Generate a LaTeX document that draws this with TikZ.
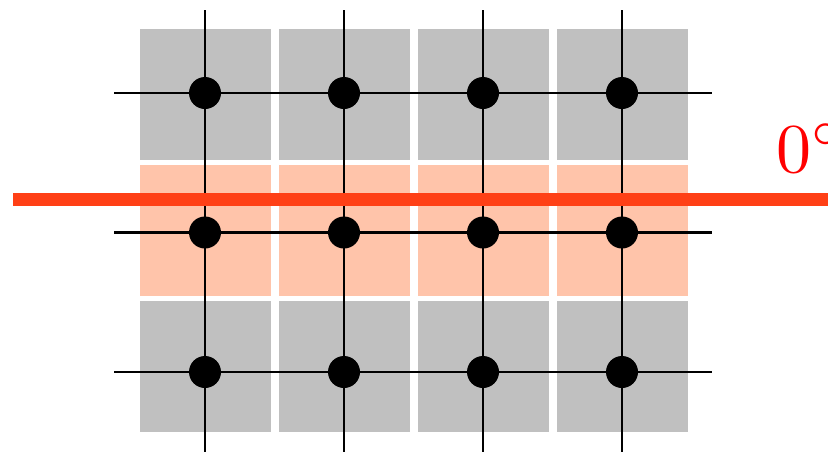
\documentclass[tikz,border=0pt]{standalone}
\usepackage{graphicx}
\usepackage{tikz}
\definecolor{cellgray}{HTML}{C0C0C0}
\definecolor{cellpink}{HTML}{FFC4AA}
\definecolor{bandred}{HTML}{FF4016}
\tikzset{
  cell/.style={fill=#1, draw=none},
  gridline/.style={line width=2.8pt, black},
  site/.style={circle, fill=black, inner sep=0pt, minimum size=32pt},
  band/.style={line width=13pt, bandred},
}
\begin{document}
\begin{tikzpicture}[x=1pt, y=-1pt]
  \useasboundingbox (0,0) rectangle (828,451);
  \clip (0,0) rectangle (828,451);
  % cells: gray outer rows, pink middle row
  \foreach \i in {0,...,3} {
    \foreach \j/\c in {0/cellgray, 1/cellpink, 2/cellgray} {
      \fill[cell=\c] ({140+139*\i}, {29+136*\j}) rectangle ++(131,131);
    }
  }
  % line end points and sites
  \foreach \i in {0,...,3} {
    \coordinate (top-\i) at ({205+139*\i}, 10);
    \coordinate (bot-\i) at ({205+139*\i}, 460);
  }
  \foreach \j in {0,1,2} {
    \coordinate (left-\j) at (114, {93+139.5*\j});
    \coordinate (right-\j) at (712, {93+139.5*\j});
  }
  \foreach \i in {0,...,3} \draw[gridline] (top-\i) -- (bot-\i);
  \foreach \j in {0,1,2} \draw[gridline] (left-\j) -- (right-\j);
  \foreach \i in {0,...,3} {
    \foreach \j in {0,1,2} {
      \node[site] (s-\i-\j) at ({205+139*\i}, {93+139.5*\j}) {};
    }
  }
  % cut line and its angle label
  \coordinate (cut-a) at (13, 199);
  \coordinate (cut-b) at (840, 199);
  \draw[band] (cut-a) -- (cut-b);
  \node[anchor=base west, inner sep=0pt, text=red] (angle) at (776, 172) {\scalebox{7}{0$^\circ$}};
\end{tikzpicture}
\end{document}
